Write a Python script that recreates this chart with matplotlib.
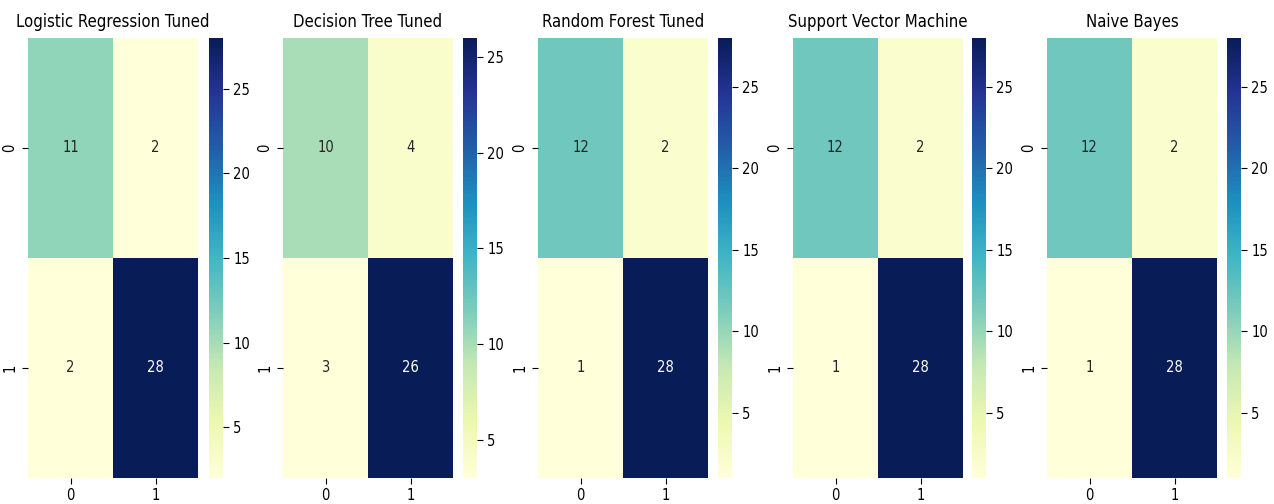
import numpy as np
import matplotlib
matplotlib.use('Agg')
import matplotlib.pyplot as plt
import seaborn as sns

# confusion matrices
titles = ['Logistic Regression Tuned', 'Decision Tree Tuned', 'Random Forest Tuned',
          'Support Vector Machine', 'Naive Bayes']
cm_lr = [[11, 2], [2, 28]]
cm_dt = [[10, 4], [3, 26]]
cm_rf = [[12, 2], [1, 28]]
cm_svm = [[12, 2], [1, 28]]
cm_nb = [[12, 2], [1, 28]]
matrices = [cm_lr, cm_dt, cm_rf, cm_svm, cm_nb]

plt.rcParams['font.family'] = ['DejaVu Sans']
plt.rcParams['font.stretch'] = 'condensed'

W, H = 1274, 504
fig = plt.figure(figsize=(W / 100, H / 100), dpi=100)

# pixel layout of each panel (left of heatmap, left of colorbar)
hm_left = [28, 283, 538, 793, 1047]
cb_left = [209, 463, 718, 972, 1227]
top, bottom = 38, 478

for i in range(5):
    ax = fig.add_axes([hm_left[i] / W, (H - bottom) / H, 170 / W, (bottom - top) / H])
    cax = fig.add_axes([cb_left[i] / W, (H - bottom) / H, 14 / W, (bottom - top) / H])
    sns.heatmap(np.array(matrices[i]), annot=True, fmt='d', cmap='YlGnBu',
                ax=ax, cbar_ax=cax, annot_kws={'fontsize': 10.5})
    ax.set_title(titles[i], fontsize=12, pad=8)
    ax.tick_params(labelsize=10.5, length=4)
    cax.tick_params(labelsize=10.5, length=4)
    cax.set_yticks([5, 10, 15, 20, 25])

fig.savefig('out.png', dpi=100)
